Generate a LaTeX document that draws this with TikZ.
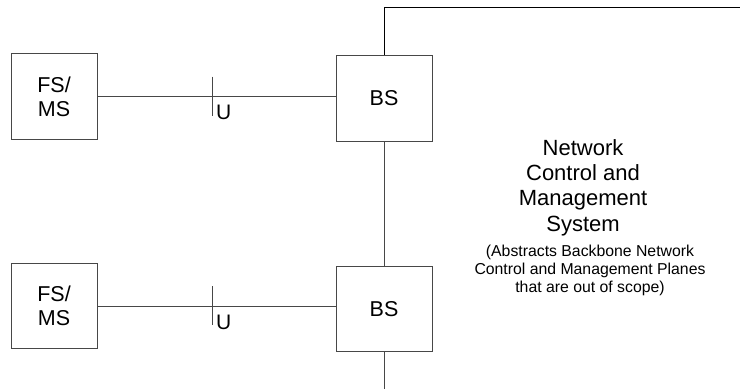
\documentclass[tikz,border=0pt]{standalone}
\usepackage{fontspec}
\setmainfont{Liberation Sans}
\begin{document}
\begin{tikzpicture}[x=1pt,y=-1pt,
  lc/.style={draw=black!72, line width=1pt},
  box/.style={lc, rectangle, inner sep=0pt, align=center,
    font=\fontsize{21.5}{24}\selectfont},
  big/.style={inner sep=0pt, align=center, font=\fontsize{22}{25.4}\selectfont},
  small/.style={inner sep=0pt, align=center, font=\fontsize{15.8}{18.2}\selectfont},
  lbl/.style={inner sep=0pt, anchor=base west, font=\fontsize{21}{24}\selectfont}]
\useasboundingbox (0,0) rectangle (740,389);
\fill[white] (0,0) rectangle (740,389);
% boxes
\node[box, minimum width=86pt, minimum height=86pt] (fs1) at (54,96.5) {FS/\\MS};
\node[box, minimum width=86pt, minimum height=85pt] (fs2) at (54,305.5) {FS/\\MS};
\node[box, minimum width=96pt, minimum height=86pt] (bs1) at (384,98) {BS};
\node[box, minimum width=96pt, minimum height=85pt] (bs2) at (384,309) {BS};
% U interfaces
\coordinate (t1) at (212.5,96.5);
\coordinate (t2) at (212.5,306);
\draw[lc] (fs1.east |- t1) -- (bs1.west |- t1);
\draw[lc] (fs2.east |- t2) -- (bs2.west |- t2);
\draw[lc] ([yshift=20pt]t1) -- ([yshift=-19pt]t1);
\draw[lc] ([yshift=20pt]t2) -- ([yshift=-19pt]t2);
\node[lbl] (u1) at (216,119) {U};
\node[lbl] (u2) at (216,329) {U};
% backbone connections
\coordinate (tc) at (384,7);
\coordinate (te) at (740,7);
\coordinate (be) at (384,389);
\draw[lc, draw=black] (bs1.north) -- (tc) -- (te);
\draw[lc] (bs1.south) -- (bs2.north);
\draw[lc] (bs2.south) -- (be);
% network text
\node[big, anchor=north] (ncms) at (583,139) {Network\\Control and\\Management\\System};
\node[small, anchor=north] (abs) at (590,244.5) {(Abstracts Backbone Network\\Control and Management Planes\\that are out of scope)};
\end{tikzpicture}
\end{document}
